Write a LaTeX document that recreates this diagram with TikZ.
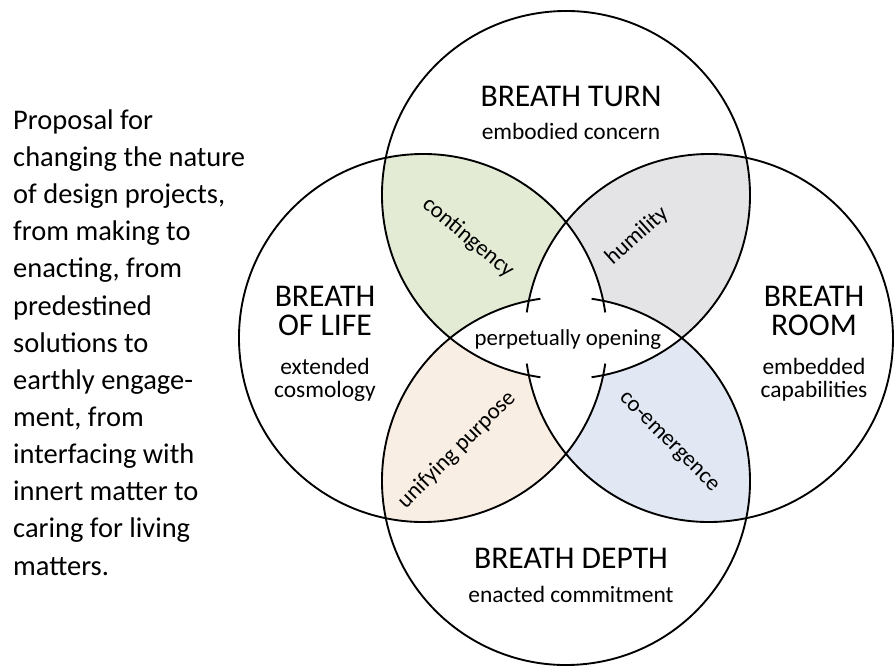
\documentclass[tikz,border=0pt]{standalone}
\usepackage{fontspec}
\setmainfont{Carlito}
\usepackage{xcolor}

\begin{document}
\begin{tikzpicture}[x=0.03cm,y=0.03cm,
  ring/.style={line width=1.6pt},
  headtext/.style={font=\fontsize{27}{24}\selectfont,align=center,inner sep=0},
  subtext/.style={font=\fontsize{20}{19.6}\selectfont,align=center,inner sep=0},
  lenstext/.style={font=\fontsize{19.5}{20}\selectfont,inner sep=0}]
\definecolor{sage}{HTML}{E3EBD5}
\definecolor{mist}{HTML}{E4E4E6}
\definecolor{apricot}{HTML}{F9EEE3}
\definecolor{powder}{HTML}{E1E8F3}
\useasboundingbox (-566,-330) rectangle (328,338);
\coordinate (turn) at (0,143);
\coordinate (life) at (-143,0);
\coordinate (room) at (143,0);
\coordinate (depth) at (0,-143);
% shaded overlaps
\foreach \a/\b/\crlr in {turn/life/sage,turn/room/mist,depth/life/apricot,depth/room/powder}
{ \begin{scope} \clip (\a) circle (184); \fill[\crlr] (\b) circle (184); \end{scope} }
% white centre
\foreach \a/\b in {turn/depth,life/room}
{ \begin{scope} \clip (\a) circle (184); \fill[white] (\b) circle (184); \end{scope} }
% rings, open towards the centre
\foreach \ctr/\dir in {turn/270,life/0,room/180,depth/90}
{ \draw[ring] ([shift={(\dir+8:184)}]\ctr) arc[start angle=\dir+8, end angle=\dir+352, radius=184]; }
% labels
\node[headtext,anchor=base] (turnhead) at (5,231) {BREATH TURN};
\node[subtext,anchor=base] (turnsub) at (5,198) {embodied concern};
\node[headtext,anchor=base] (lifehead) at (-241,3) {BREATH\\OF LIFE};
\node[subtext,anchor=base] (lifesub) at (-241,-59) {extended\\cosmology};
\node[headtext,anchor=base] (roomhead) at (248,3) {BREATH\\ROOM};
\node[subtext,anchor=base] (roomsub) at (248,-59) {embedded\\capabilities};
\node[headtext,anchor=base] (depthhead) at (5,-230) {BREATH DEPTH};
\node[subtext,anchor=base] (depthsub) at (5,-264) {enacted commitment};
\node[lenstext,anchor=base] (opening) at (2,-7) {perpetually opening};
\node[lenstext,rotate=-40] (contingency) at (-98,100) {contingency};
\node[lenstext,rotate=42] (humility) at (71,102) {humility};
\node[lenstext,rotate=45] (unifying) at (-109,-112) {unifying purpose};
\node[lenstext,rotate=-45] (coemergence) at (102,-105) {co-emergence};
\node[font=\fontsize{24.3}{31.7}\selectfont,align=left,anchor=base west,inner sep=0] (proposal) at (-553,-237)
  {Proposal for\\changing the nature\\of design projects,\\from making to\\enacting, from\\predestined\\solutions to\\earthly engage-\\ment, from\\interfacing with\\innert matter to\\caring for living\\matters.};
\end{tikzpicture}
\end{document}
